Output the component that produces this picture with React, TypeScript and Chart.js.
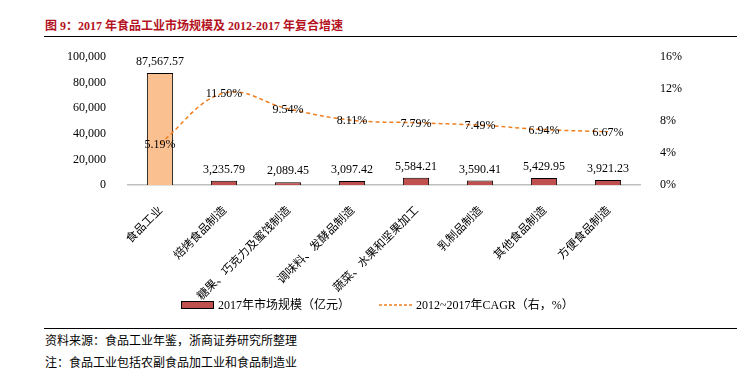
import React, { useEffect, useRef } from "react";
import { Chart, registerables } from "chart.js";

Chart.register(...registerables);

const categories = [
  "食品工业",
  "焙烤食品制造",
  "糖果、巧克力及蜜饯制造",
  "调味料、发酵品制造",
  "蔬菜、水果和坚果加工",
  "乳制品制造",
  "其他食品制造",
  "方便食品制造",
];
const marketSize = [87567.57, 3235.79, 2089.45, 3097.42, 5584.21, 3590.41, 5429.95, 3921.23];
const cagr = [5.19, 11.5, 9.54, 8.11, 7.79, 7.49, 6.94, 6.67];
const leftTicks = [0, 20000, 40000, 60000, 80000, 100000];
const rightTicks = [0, 4, 8, 12, 16];

const SERIF = '"Liberation Serif", "Times New Roman", "Noto Sans CJK SC", serif';
const CJK = '"Noto Sans CJK SC", sans-serif';
const BAR_RED = "#C0504D";
const BAR_LIGHT = "#FAC090";
const LINE_ORANGE = "#F07F20";
const TITLE_RED = "#B3121E";

const labelPlugin = {
  id: "valueLabels",
  afterDatasetsDraw(chart: any) {
    const ctx = chart.ctx;
    ctx.save();
    ctx.font = `12px ${SERIF}`;
    ctx.fillStyle = "#000";
    ctx.textAlign = "center";
    const barMeta = chart.getDatasetMeta(0);
    barMeta.data.forEach((el: any, i: number) => {
      ctx.textBaseline = "bottom";
      const txt = marketSize[i].toLocaleString("en-US", {
        minimumFractionDigits: 2,
        maximumFractionDigits: 2,
      });
      ctx.fillText(txt, el.x, el.y - 5);
    });
    const lineMeta = chart.getDatasetMeta(1);
    lineMeta.data.forEach((el: any, i: number) => {
      ctx.textBaseline = "middle";
      ctx.fillText(cagr[i].toFixed(2) + "%", el.x, el.y + 1);
    });
    ctx.restore();
  },
};

export default function App() {
  const ref = useRef<HTMLCanvasElement>(null);
  useEffect(() => {
    if (!ref.current) return;
    const chart = new Chart(ref.current, {
      type: "bar",
      data: {
        labels: categories,
        datasets: [
          {
            type: "bar",
            label: "2017年市场规模（亿元）",
            data: marketSize,
            backgroundColor: marketSize.map((_, i) => (i === 0 ? BAR_LIGHT : BAR_RED)),
            borderColor: "#000",
            borderWidth: 1,
            barPercentage: 0.41,
            categoryPercentage: 1,
            yAxisID: "y",
            order: 1,
          },
          {
            type: "line",
            label: "2012~2017年CAGR（右，%）",
            data: cagr,
            borderColor: LINE_ORANGE,
            borderWidth: 1.5,
            borderDash: [4, 3],
            pointRadius: 0,
            tension: 0.4,
            fill: false,
            yAxisID: "y1",
            order: 0,
          },
        ],
      },
      options: {
        animation: false,
        responsive: false,
        maintainAspectRatio: false,
        layout: { padding: { top: 13, left: 0, right: 0, bottom: 0 } },
        plugins: { legend: { display: false }, tooltip: { enabled: false } },
        scales: {
          x: {
            grid: { display: false },
            border: { display: true, color: "#BFBFBF", width: 1.5 },
            ticks: {
              color: "#000",
              font: { size: 11.5, family: CJK },
              maxRotation: 45,
              minRotation: 45,
              autoSkip: false,
              padding: 10,
              labelOffset: 0,
            },
            afterFit(scale: any) {
              scale.height = 121;
            },
          },
          y: {
            position: "left",
            min: 0,
            max: 100000,
            afterBuildTicks(scale: any) {
              scale.ticks = leftTicks.map((v) => ({ value: v }));
            },
            grid: { display: false },
            border: { display: false },
            ticks: {
              color: "#000",
              font: { size: 12, family: SERIF },
              padding: 14,
              callback: (v: any) => Number(v).toLocaleString("en-US"),
            },
            afterFit(scale: any) {
              scale.width = 88;
            },
          },
          y1: {
            position: "right",
            min: 0,
            max: 16,
            afterBuildTicks(scale: any) {
              scale.ticks = rightTicks.map((v) => ({ value: v }));
            },
            grid: { display: false },
            border: { display: false },
            ticks: {
              color: "#000",
              font: { size: 12, family: SERIF },
              padding: 12,
              callback: (v: any) => v + "%",
            },
            afterFit(scale: any) {
              scale.width = 60;
            },
          },
        },
      },
      plugins: [labelPlugin],
    } as any);
    return () => chart.destroy();
  }, []);

  const abs = (o: React.CSSProperties): React.CSSProperties => ({ position: "absolute", ...o });

  return (
    <div style={abs({ left: 0, top: 0, width: 737, height: 381, background: "#fff", overflow: "hidden" })}>
      <div
        style={abs({
          left: 45,
          top: 18,
          fontFamily: SERIF,
          fontWeight: "bold",
          fontSize: 12,
          color: TITLE_RED,
          whiteSpace: "nowrap",
          lineHeight: "16px",
        })}
      >
        图 9：2017 年食品工业市场规模及 2012-2017 年复合增速
      </div>
      <div style={abs({ left: 44, top: 36, width: 693, height: 0, borderTop: "1px solid #000" })} />
      <canvas ref={ref} width={660} height={270} style={abs({ left: 40, top: 36, width: 660, height: 270 })} />
      <div
        style={abs({
          left: 181,
          top: 301,
          width: 33,
          height: 8,
          background: BAR_RED,
          border: "1px solid #000",
          boxSizing: "border-box",
        })}
      />
      <div style={abs({ left: 218, top: 297, fontFamily: SERIF, fontSize: 12, lineHeight: "16px", whiteSpace: "nowrap" })}>
        2017年市场规模（亿元）
      </div>
      <svg style={abs({ left: 378, top: 300, width: 36, height: 10 })} width={36} height={10}>
        <line x1={1} y1={5} x2={35} y2={5} stroke={LINE_ORANGE} strokeWidth={1.5} strokeDasharray="3,2" />
      </svg>
      <div style={abs({ left: 416, top: 297, fontFamily: SERIF, fontSize: 12, lineHeight: "16px", whiteSpace: "nowrap" })}>
        2012~2017年CAGR（右，%）
      </div>
      <div style={abs({ left: 44, top: 328, width: 693, height: 0, borderTop: "1px solid #000" })} />
      <div style={abs({ left: 45, top: 332, fontFamily: CJK, fontSize: 12, lineHeight: "16px", whiteSpace: "nowrap" })}>
        资料来源：食品工业年鉴，浙商证券研究所整理
      </div>
      <div style={abs({ left: 45, top: 354, fontFamily: CJK, fontSize: 12, lineHeight: "16px", whiteSpace: "nowrap" })}>
        注：食品工业包括农副食品加工业和食品制造业
      </div>
    </div>
  );
}
